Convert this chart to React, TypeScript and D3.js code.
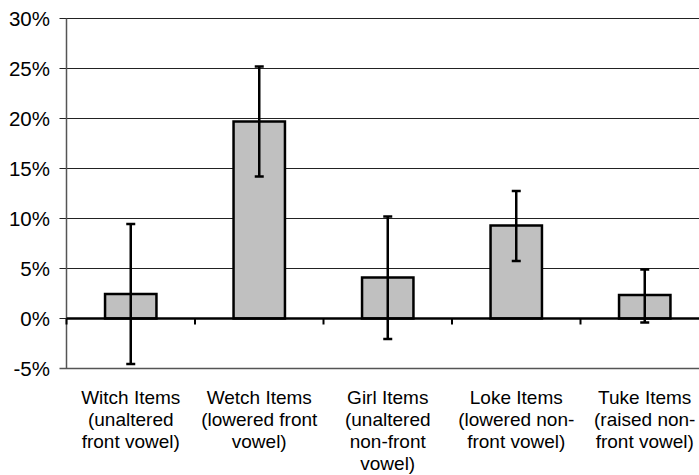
import React from "react";
import * as d3 from "d3";

const categories = ["Witch", "Wetch", "Girl", "Loke", "Tuke"];
const labelLines: string[][] = [
  ["Witch Items", "(unaltered", "front vowel)"],
  ["Wetch Items", "(lowered front", "vowel)"],
  ["Girl Items", "(unaltered", "non-front", "vowel)"],
  ["Loke Items", "(lowered non-", "front vowel)"],
  ["Tuke Items", "(raised non-", "front vowel)"],
];
const values = [2.45, 19.7, 4.1, 9.3, 2.35];
const errLow = [-4.55, 14.2, -2.05, 5.75, -0.4];
const errHigh = [9.45, 25.2, 10.2, 12.75, 4.9];
const yTicks = [-5, 0, 5, 10, 15, 20, 25, 30];

export default function App() {
  const W = 699, H = 475;
  const left = 66.5, right = 709, top = 18.5, bottom = 368.5;
  const x = d3.scaleBand<string>().domain(categories).range([left, right]).paddingInner(0.6).paddingOuter(0.3);
  const xb = d3.scaleBand<string>().domain(categories).range([left, right]);
  const y = d3.scaleLinear().domain([-5, 30]).range([bottom, top]);
  const font = "Liberation Sans, Arial, Helvetica, sans-serif";
  return (
    <svg width={W} height={H} style={{ position: "absolute", left: 0, top: 0, background: "#fff" }}>
      {yTicks.map((t) => (
        <g key={t}>
          <line x1={left - 7} x2={W} y1={y(t)} y2={y(t)} stroke={t === -5 ? "#555" : "#222"} strokeWidth={t === -5 ? 1.5 : 1} />
          <text x={50} y={y(t)} dy="0.36em" textAnchor="end" fontFamily={font} fontSize={20.5} fill="#000">
            {t}%
          </text>
        </g>
      ))}
      <line x1={left} x2={left} y1={top} y2={bottom} stroke="#555" strokeWidth={1.5} />
      {categories.map((c, i) => (
        <rect key={c} x={x(c)} width={x.bandwidth()} y={y(Math.max(0, values[i]))} height={Math.abs(y(values[i]) - y(0))}
          fill="#c0c0c0" stroke="#000" strokeWidth={2.5} />
      ))}
      <line x1={left} x2={W} y1={y(0)} y2={y(0)} stroke="#000" strokeWidth={2.5} />
      {categories.map((c) => (
        <line key={"t" + c} x1={(xb(c) as number) + xb.bandwidth()} x2={(xb(c) as number) + xb.bandwidth()} y1={y(0)} y2={y(0) + 6} stroke="#000" strokeWidth={2} />
      ))}
      <line x1={left} x2={left} y1={y(0)} y2={y(0) + 6} stroke="#000" strokeWidth={2} />
      {categories.map((c, i) => {
        const cx = (x(c) as number) + x.bandwidth() / 2;
        return (
          <g key={"e" + c} stroke="#000" strokeWidth={2.5}>
            <line x1={cx} x2={cx} y1={y(errLow[i])} y2={y(errHigh[i])} />
            <line x1={cx - 4.5} x2={cx + 4.5} y1={y(errLow[i])} y2={y(errLow[i])} />
            <line x1={cx - 4.5} x2={cx + 4.5} y1={y(errHigh[i])} y2={y(errHigh[i])} />
          </g>
        );
      })}
      {categories.map((c, i) => {
        const cx = (xb(c) as number) + xb.bandwidth() / 2;
        return (
          <text key={"l" + c} textAnchor="middle" fontFamily={font} fontSize={19} fill="#000">
            {labelLines[i].map((ln, j) => (
              <tspan key={j} x={cx} y={404 + j * 22}>{ln}</tspan>
            ))}
          </text>
        );
      })}
    </svg>
  );
}
